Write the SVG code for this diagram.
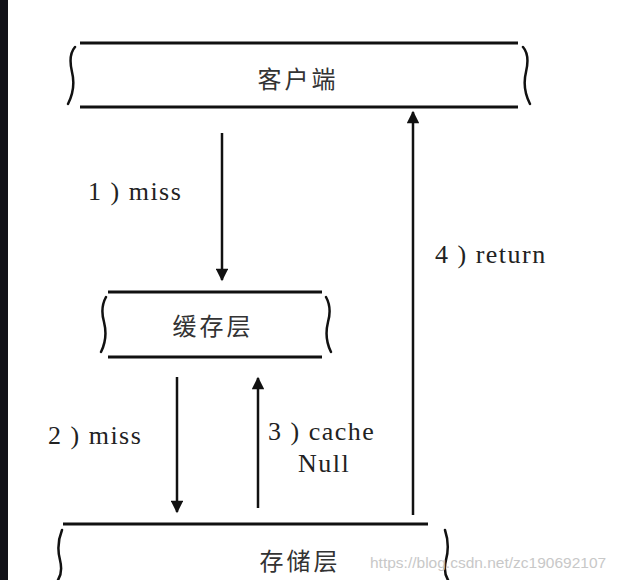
<svg xmlns="http://www.w3.org/2000/svg" width="621" height="580" viewBox="0 0 621 580">
<style>
.ln{stroke:#111;stroke-width:3;fill:none}
.br{stroke:#111;stroke-width:2.5;fill:none;stroke-linecap:round}
.ar{stroke:#111;stroke-width:2.5;fill:none}
.lb{font-family:"Liberation Serif",serif;font-size:26px;fill:#222;letter-spacing:1.5px}
.cn{font-family:"Noto Sans CJK SC",sans-serif;font-size:24px;fill:#333;text-anchor:middle;letter-spacing:3px}
.wm{font-family:"Liberation Sans",sans-serif;font-size:15.5px;fill:#c8c8c8}
</style>
<defs><marker id="ah" viewBox="0 0 10 10" refX="9" refY="5" markerWidth="9" markerHeight="5" orient="auto" markerUnits="strokeWidth"><path d="M0,0L10,5L0,10z" fill="#111"/></marker></defs>
<rect width="621" height="580" fill="#fff"/>
<rect width="8" height="580" fill="#121218"/>
<g id="client">
<path class="ln" d="M80 43H518M80 107H518"/>
<path class="br" d="M75 47Q68 55 72 72Q76 88 68 104M523 47Q530 55 526 72Q522 88 530 104"/>
<text class="cn" x="298" y="88">客户端</text>
</g>
<g id="cache">
<path class="ln" d="M108 292H322M108 357H322"/>
<path class="br" d="M106 297Q100 308 104 322Q108 338 101 352M326 297Q332 308 328 322Q324 338 331 352"/>
<text class="cn" x="213" y="335">缓存层</text>
</g>
<g id="storage">
<path class="ln" d="M63 524H428"/>
<path class="br" d="M62 530Q56 545 60 560Q63 572 58 580M445 530Q450 545 446 560Q443 572 448 580"/>
<text class="cn" x="300" y="570">存储层</text>
</g>
<g id="connectors">
<path class="ar" d="M222 133V280" marker-end="url(#ah)"/>
<path class="ar" d="M413 515V112" marker-end="url(#ah)"/>
<path class="ar" d="M177 377V512" marker-end="url(#ah)"/>
<path class="ar" d="M258 508V378" marker-end="url(#ah)"/>
<text class="lb" x="88" y="200">1 ) miss</text>
<text class="lb" x="435" y="263">4 ) return</text>
<text class="lb" x="48" y="444">2 ) miss</text>
<text class="lb" x="268" y="440">3 ) cache</text>
<text class="lb" x="298" y="472">Null</text>
</g>
<text class="wm" x="370" y="568">https://blog.csdn.net/zc190692107</text>
</svg>
